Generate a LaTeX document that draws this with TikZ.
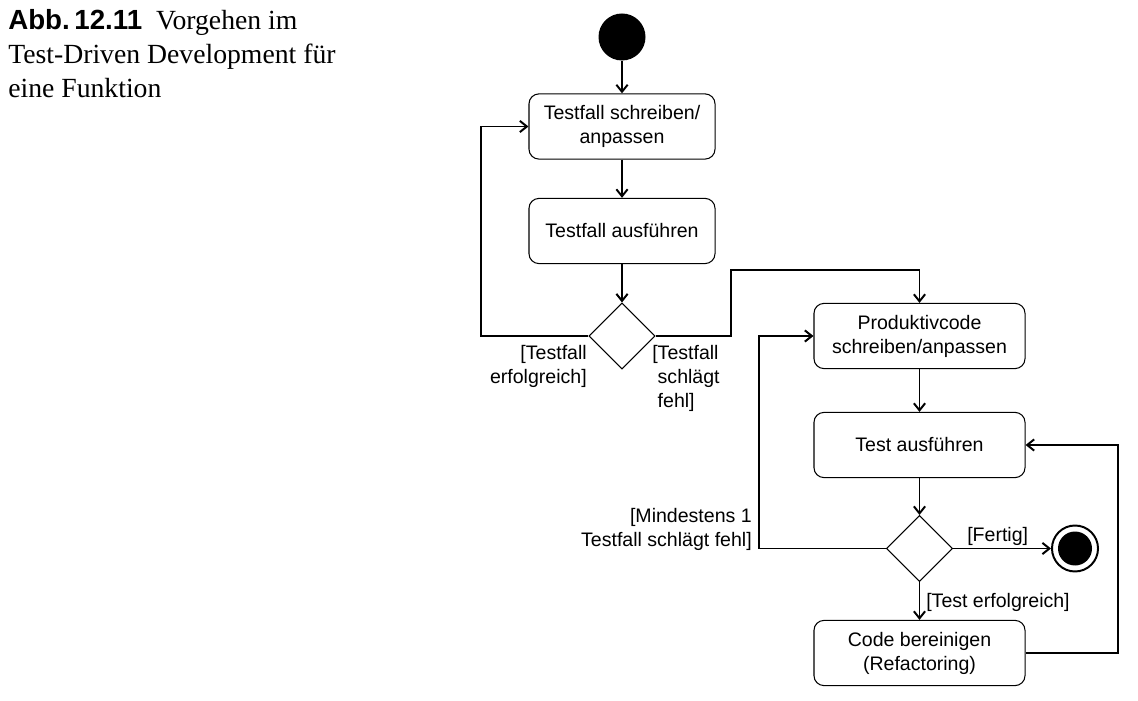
\documentclass[tikz,border=0pt]{standalone}
\usepackage{fontspec}
\setmainfont{Liberation Serif}
\setsansfont{Liberation Sans}
\usetikzlibrary{arrows.meta,shapes.geometric}
\tikzset{
	aktion/.style={draw, rounded corners=0.25cm, minimum width=#1, minimum height=1.63cm, align=center, font=\sffamily\fontsize{13.9}{17}\selectfont, line width=0.75pt},
	aktion/.default=4.65cm,
	entscheidung/.style={draw, diamond, minimum width=1.65cm, minimum height=1.65cm, inner sep=0pt, line width=0.75pt},
	fluss/.style={line width=1.4pt, -{Straight Barb[length=5pt,width=8pt]}},
	waechter/.style={inner sep=0pt, font=\sffamily\fontsize{13.9}{17}\selectfont}
}

\begin{document}
\begin{tikzpicture}[x=0.025cm, y=-0.025cm]
		%%%%% START %%%%%
		\useasboundingbox (0, 0) rectangle (1138, 701);
		
		\node[anchor=north west, inner sep=0pt, align=left, font=\fontsize{19.7}{24.2}\selectfont] (titel) at (8, 9)
			{{\sffamily\bfseries Abb.\,12.11}\hspace{0.5em}Vorgehen im\\Test-Driven Development für\\eine Funktion};
		
		\node[circle, fill=black, minimum size=1.175cm, inner sep=0pt] (start) at (622, 37) {};
		
		\node[aktion] (schreiben) at (622, 126.5) {Testfall schreiben/\\anpassen};
		\node[aktion] (ausfuehren) at (622, 231) {Testfall ausführen};
		\node[entscheidung] (pruefen) at (622, 336) {};
		
		\node[aktion=5.275cm] (produktiv) at (919.5, 336) {Produktivcode\\schreiben/anpassen};
		\node[aktion=5.275cm] (test) at (919.5, 445) {Test ausführen};
		\node[entscheidung] (auswerten) at (919.5, 548.5) {};
		\node[aktion=5.275cm] (bereinigen) at (919.5, 653) {Code bereinigen\\(Refactoring)};
		
		\node[circle, draw, line width=1.4pt, minimum size=1.15cm, inner sep=0pt] (ende) at (1075, 548.5) {};
		\fill (ende) circle (17);
		
		\coordinate (links1) at (481, 336);
		\coordinate (rechts1) at (731, 336);
		\coordinate (rechts1o) at (731, 270);
		\coordinate (links2) at (759, 548.5);
		\coordinate (rechts2) at (1118, 653);
		
		\draw[fluss] (start) -- (schreiben);
		\draw[fluss] (schreiben) -- (ausfuehren);
		\draw[fluss] (ausfuehren) -- (pruefen);
		\draw[fluss] (pruefen.west) -- (links1) |- (schreiben.west);
		\draw[fluss] (pruefen.east) -- (rechts1) -- (rechts1o) -| (produktiv.north);
		
		\draw[fluss] (produktiv) -- (test);
		\draw[fluss] (test) -- (auswerten);
		\draw[fluss] (auswerten) -- (bereinigen);
		\draw[fluss] (auswerten.west) -- (links2) |- (produktiv.west);
		\draw[fluss] (auswerten.east) -- (ende);
		\draw[fluss] (bereinigen.east) -- (rechts2) |- (test.east);
		
		\node[waechter, anchor=north east, align=right] (erfolg1) at (587, 345) {[Testfall\\erfolgreich]};
		\node[waechter, anchor=north west, align=left] (fehl1) at (652, 345) {[Testfall\\\hphantom{[}schlägt\\\hphantom{[}fehl]};
		\node[waechter, anchor=north east, align=right] (fehl2) at (752, 508) {[Mindestens 1\\Testfall schlägt fehl]};
		\node[waechter, anchor=base west] (fertig) at (967, 541) {[Fertig]};
		\node[waechter, anchor=base west] (erfolg2) at (926, 607) {[Test erfolgreich]};
		
		%%%%% END %%%%%
	\end{tikzpicture}
\end{document}
